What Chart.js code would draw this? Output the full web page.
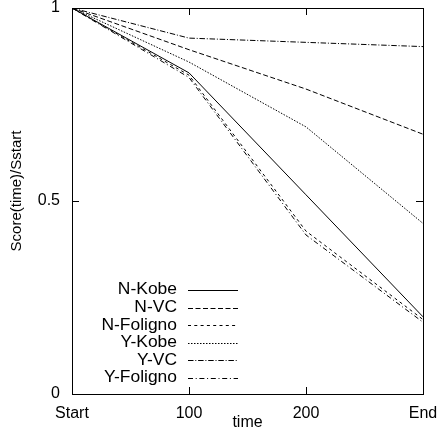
<!DOCTYPE html>
<html lang="en">
<head>
    <meta charset="UTF-8">
    <title>Score decay</title>
    <script src="https://cdn.jsdelivr.net/npm/chart.js"></script>
    <style>
        html, body {
            margin: 0;
            padding: 0;
            background: #fff;
        }
        .chart-container {
            width: 437px;
            height: 435px;
        }
    </style>
</head>
<body>
    <div class="chart-container">
        <canvas id="scoreChart"></canvas>
    </div>

    <script>
        // x categories and y ticks
        const categories = ['Start', '100', '200', 'End'];
        const yTicks = [0, 0.5, 1];

        // Score(time)/Sstart for each run
        const nKobe    = [1, 0.832, 0.516, 0.200];
        const nVC      = [1, 0.892, 0.790, 0.673];
        const nFoligno = [1, 0.826, 0.422, 0.193];
        const yKobe    = [1, 0.860, 0.692, 0.442];
        const yVC      = [1, 0.922, 0.911, 0.900];
        const yFoligno = [1, 0.820, 0.412, 0.186];

        const FONT = '"Liberation Sans", Arial, Helvetica, sans-serif';
        Chart.defaults.font.family = FONT;
        Chart.defaults.font.size = 16;
        Chart.defaults.color = '#000';

        function series(label, data, dash) {
            return {
                label: label,
                data: data,
                borderColor: '#000',
                borderWidth: 1,
                borderDash: dash,
                pointRadius: 0,
                tension: 0,
                fill: false
            };
        }

        // ticks point into the plot (negative length), no grid inside
        const inwardGrid = {
            display: true,
            drawOnChartArea: false,
            drawTicks: true,
            tickLength: -7,
            tickColor: '#000',
            color: '#000',
            lineWidth: 1
        };
        const frameBorder = {display: true, color: '#000', width: 1};

        function fixSize(prop, size) {
            return function (scale) {
                scale[prop] = size;
                scale.paddingTop = 0;
                scale.paddingBottom = 0;
                scale.paddingLeft = 0;
                scale.paddingRight = 0;
            };
        }
        function setYTicks(scale) {
            scale.ticks = yTicks.map(v => ({value: v}));
        }

        // y axis title and key in the lower left
        const extras = {
            id: 'extras',
            afterDraw(chart) {
                const {ctx, chartArea: a} = chart;
                ctx.save();
                ctx.fillStyle = '#000';

                ctx.save();
                ctx.font = '15px ' + FONT;
                ctx.textAlign = 'center';
                ctx.textBaseline = 'middle';
                ctx.translate(17, (a.top + a.bottom) / 2 - 10);
                ctx.rotate(-Math.PI / 2);
                ctx.fillText('Score(time)/Sstart', 0, 0);
                ctx.restore();

                ctx.font = '16px ' + FONT;
                ctx.textAlign = 'right';
                ctx.textBaseline = 'middle';
                chart.data.datasets.forEach((ds, i) => {
                    const yy = a.bottom - 104 + i * 17.6;
                    ctx.setLineDash([]);
                    // names are set slightly wide
                    ctx.save();
                    ctx.translate(a.left + 105, yy);
                    ctx.scale(1.09, 1);
                    ctx.fillText(ds.label, 0, 0);
                    ctx.restore();
                    const ly = Math.round(yy) + 0.5;
                    ctx.strokeStyle = ds.borderColor;
                    ctx.lineWidth = ds.borderWidth;
                    ctx.setLineDash(ds.borderDash || []);
                    ctx.beginPath();
                    ctx.moveTo(a.left + 116, ly);
                    ctx.lineTo(a.left + 166, ly);
                    ctx.stroke();
                });
                ctx.restore();
            }
        };

        new Chart(document.getElementById('scoreChart'), {
            type: 'line',
            data: {
                labels: categories,
                datasets: [
                    series('N-Kobe', nKobe, []),
                    series('N-VC', nVC, [5, 2.5]),
                    series('N-Foligno', nFoligno, [3, 3.3]),
                    series('Y-Kobe', yKobe, [1.5, 1.5]),
                    series('Y-VC', yVC, [5.5, 1.8, 1, 1.8]),
                    series('Y-Foligno', yFoligno, [5, 2.7, 1, 2.7])
                ]
            },
            options: {
                responsive: true,
                maintainAspectRatio: false,
                animation: false,
                layout: {
                    padding: {left: 0, right: 14, top: 8, bottom: 0}
                },
                plugins: {
                    legend: {display: false},
                    tooltip: {enabled: false}
                },
                scales: {
                    x: {
                        type: 'category',
                        position: 'bottom',
                        offset: false,
                        grid: inwardGrid,
                        border: frameBorder,
                        ticks: {padding: 16.5, maxRotation: 0, autoSkip: false},
                        title: {
                            display: true,
                            text: 'time',
                            padding: {top: 0, bottom: 3}
                        },
                        afterFit: fixSize('height', 41)
                    },
                    x2: {
                        type: 'category',
                        position: 'top',
                        offset: false,
                        grid: inwardGrid,
                        border: frameBorder,
                        ticks: {display: false, autoSkip: false},
                        afterFit: fixSize('height', 0)
                    },
                    y: {
                        position: 'left',
                        min: 0,
                        max: 1,
                        grid: inwardGrid,
                        border: frameBorder,
                        afterBuildTicks: setYTicks,
                        ticks: {
                            padding: 19,
                            callback: v => String(v)
                        },
                        afterFit: fixSize('width', 72)
                    },
                    y2: {
                        position: 'right',
                        min: 0,
                        max: 1,
                        grid: inwardGrid,
                        border: frameBorder,
                        afterBuildTicks: setYTicks,
                        ticks: {display: false},
                        afterFit: fixSize('width', 0)
                    }
                }
            },
            plugins: [extras]
        });
    </script>
</body>
</html>
